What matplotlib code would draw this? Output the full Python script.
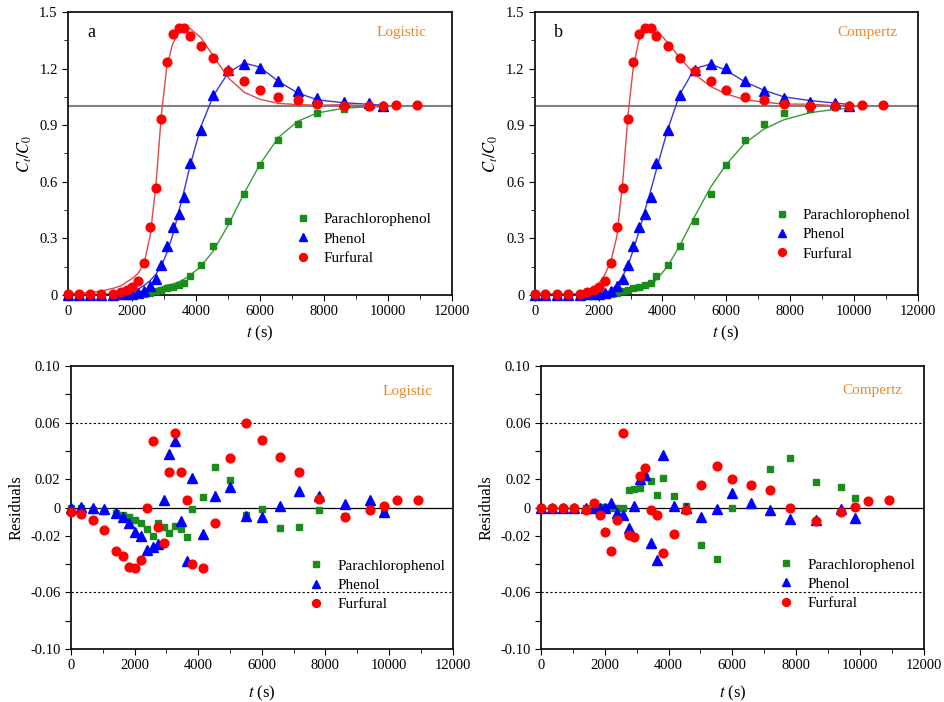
import numpy as np
import matplotlib
matplotlib.use('Agg')
import matplotlib.pyplot as plt
from matplotlib.ticker import FixedLocator, FixedFormatter, MultipleLocator

plt.rcParams['font.family'] = ['Liberation Serif', 'DejaVu Serif']
plt.rcParams['mathtext.fontset'] = 'stix'

# sampling times (s); furfural has two extra points at the end
t = np.array([0, 330, 690, 1040, 1420, 1650, 1840, 2010, 2190, 2380, 2570, 2750,
              2920, 3090, 3270, 3460, 3640, 3810, 4160, 4540, 5010, 5510, 6000,
              6580, 7180, 7800, 8630, 9400, 9850])
t_fur = np.append(t, [10250, 10900])

# measured Ct/C0
obs_pcp = np.array([0, 0, 0, 0, 0, 0.002, 0.003, 0.004, 0.005, 0.007, 0.009, 0.021,
                    0.027, 0.034, 0.044, 0.053, 0.064, 0.101, 0.159, 0.261, 0.389,
                    0.534, 0.691, 0.820, 0.906, 0.963, 0.984, 0.998, 0.995])
obs_phe = np.array([0, 0, 0, 0, 0, 0.002, 0.004, 0.006, 0.010, 0.020, 0.048, 0.083,
                    0.159, 0.260, 0.362, 0.428, 0.521, 0.701, 0.875, 1.062, 1.193,
                    1.223, 1.201, 1.133, 1.083, 1.042, 1.021, 1.016, 1.002])
obs_fur = np.array([0.003, 0.004, 0.004, 0.004, 0.004, 0.014, 0.027, 0.044, 0.076,
                    0.168, 0.362, 0.569, 0.933, 1.235, 1.383, 1.413, 1.417, 1.373,
                    1.320, 1.256, 1.186, 1.134, 1.085, 1.051, 1.034, 1.011, 1.002,
                    1.000, 1.003, 1.009, 1.009])

# residuals, Logistic model
res_log_pcp = np.array([-0.0005, -0.0005, -0.0016, -0.0024, -0.004, -0.0056, -0.007,
                        -0.009, -0.011, -0.015, -0.020, -0.011, -0.014, -0.018, -0.0127,
                        -0.0153, -0.0205, -0.0012, 0.0075, 0.0287, 0.0193, -0.0052,
                        -0.0007, -0.0148, -0.0141, -0.0016, -0.0059, 0.0014, -0.0038])
res_log_phe = np.array([0, 0.0005, 0, -0.001, -0.004, -0.007, -0.011, -0.017, -0.020,
                        -0.030, -0.028, -0.026, 0.005, 0.038, 0.047, -0.0097, -0.038,
                        0.021, -0.019, 0.008, 0.0146, -0.006, -0.0066, 0.0014, 0.012,
                        0.008, 0.0026, 0.0054, -0.0035])
res_log_fur = np.array([-0.003, -0.0045, -0.009, -0.016, -0.031, -0.034, -0.042, -0.043,
                        -0.037, 0.000, 0.047, -0.014, -0.025, 0.025, 0.053, 0.025, 0.005,
                        -0.040, -0.043, -0.011, 0.035, 0.060, 0.048, 0.036, 0.025, 0.006,
                        -0.0066, -0.0016, 0.0012, 0.0056, 0.0056])

# residuals, Compertz model
res_com_pcp = np.array([0, 0, 0, 0, 0, 0.0005, 0.0003, 0.0003, 0, 0, 0, 0.0127, 0.0132,
                        0.0136, 0.0214, 0.0186, 0.0092, 0.0212, 0.0082, 0.0012, -0.0264,
                        -0.0365, -0.0002, 0.0162, 0.0273, 0.0353, 0.0179, 0.0148, 0.0064])
res_com_phe = np.array([0, 0, 0, 0, 0, 0, 0, 0, 0.003, -0.0038, -0.0052, -0.0148, 0.0014,
                        0.020, 0.0233, -0.025, -0.0372, 0.0372, 0.0014, -0.0005, -0.0066,
                        -0.0009, 0.0104, 0.0033, -0.0019, -0.0082, -0.0089, -0.0012,
                        -0.0073])
res_com_fur = np.array([0, 0, 0, 0, -0.0014, 0.0033, -0.0056, -0.0172, -0.0306, -0.0085,
                        0.0527, -0.0195, -0.0207, 0.0221, 0.0282, -0.0014, -0.0052,
                        -0.0322, -0.0184, -0.0014, 0.0162, 0.0292, 0.020, 0.016, 0.0125,
                        -0.0002, -0.0092, -0.0028, 0.0002, 0.0049, 0.0054])

names = ['Parachlorophenol', 'Phenol', 'Furfural']
colors = ['#1a8c1a', '#0000ff', '#ff0000']
line_colors = ['#3a9a3a', '#3a3ad0', '#e04848']
markers = ['s', '^', 'o']
msizes = [4.8, 6.5, 6.3]

top_yticks = [0, 0.3, 0.6, 0.9, 1.2, 1.5]
top_ylabels = ['0', '0.3', '0.6', '0.9', '1.2', '1.5']
res_yticks = [-0.10, -0.08, -0.06, -0.04, -0.02, 0, 0.02, 0.04, 0.06, 0.08, 0.10]
res_ylabels = ['-0.10', '', '-0.06', '', '-0.02', '0', '0.02', '', '0.06', '', '0.10']

fig = plt.figure(figsize=(9.45, 7.02), dpi=100)
axes = {
    'a': fig.add_axes([0.072, 0.580, 0.406, 0.403]),
    'b': fig.add_axes([0.566, 0.580, 0.405, 0.403]),
    'ra': fig.add_axes([0.075, 0.0755, 0.404, 0.403]),
    'rb': fig.add_axes([0.5725, 0.0755, 0.405, 0.403]),
}


def style(ax, pad):
    for s in ax.spines.values():
        s.set_linewidth(1.2)
    ax.tick_params(which='both', direction='out', labelsize=10.5, top=False, right=False)
    ax.tick_params(which='major', length=4)
    ax.tick_params(which='minor', length=3)
    ax.set_xlim(0, 12000)
    ax.xaxis.set_major_locator(MultipleLocator(2000))
    ax.xaxis.set_minor_locator(MultipleLocator(1000))
    ax.set_xlabel(r'$t$ (s)', fontsize=12, labelpad=pad)


obs_all = [obs_pcp, obs_phe, obs_fur]
tt = [t, t, t_fur]
res_sets = {'a': [res_log_pcp, res_log_phe, res_log_fur],
            'b': [res_com_pcp, res_com_phe, res_com_fur]}
model_names = {'a': 'Logistic', 'b': 'Compertz'}
leg_pos = {'a': (0.593, 0.29), 'b': (0.626, 0.305), 'ra': (0.623, 0.318), 'rb': (0.621, 0.322)}
leg_kw = dict(loc='upper left', frameon=False, fontsize=11, handlelength=1.0,
              handletextpad=0.86, labelspacing=0.36, borderpad=0, borderaxespad=0,
              markerscale=0.9)

for key in ['a', 'b']:
    ax = axes[key]
    style(ax, 4)
    ax.axhline(1.0, color='#808080', lw=1.5, zorder=1)
    for i in range(3):
        n = len(t)
        fit = obs_all[i][:n] - res_sets[key][i][:n]
        ax.plot(t, fit, color=line_colors[i], lw=1.0, zorder=2)
        ax.plot(tt[i], obs_all[i], linestyle='none', marker=markers[i], ms=msizes[i],
                color=colors[i], label=names[i], clip_on=False, zorder=3)
    ax.set_ylim(0, 1.5)
    ax.yaxis.set_major_locator(FixedLocator(top_yticks))
    ax.yaxis.set_major_formatter(FixedFormatter(top_ylabels))
    ax.yaxis.set_minor_locator(MultipleLocator(0.15))
    ax.set_ylabel(r'$C_t/C_0$', fontsize=12)
    ax.text(0.05, 0.926, key, transform=ax.transAxes, fontsize=13, va='center')
    ax.text(0.87, 0.927, model_names[key], transform=ax.transAxes, fontsize=11,
            color='#e8892b', ha='center', va='center')
    ax.legend(bbox_to_anchor=leg_pos[key], **leg_kw)

for key, src in [('ra', 'a'), ('rb', 'b')]:
    ax = axes[key]
    style(ax, 8)
    ax.axhline(0, color='black', lw=0.9, zorder=1)
    ax.axhline(0.06, color='black', lw=0.8, ls=(0, (2, 2)), zorder=1)
    ax.axhline(-0.06, color='black', lw=0.8, ls=(0, (2, 2)), zorder=1)
    for i in range(3):
        ax.plot(tt[i], res_sets[src][i], linestyle='none', marker=markers[i], ms=msizes[i],
                color=colors[i], label=names[i], clip_on=False, zorder=3)
    ax.set_ylim(-0.1, 0.1)
    ax.yaxis.set_major_locator(FixedLocator(res_yticks))
    ax.yaxis.set_major_formatter(FixedFormatter(res_ylabels))
    ax.set_ylabel('Residuals', fontsize=12)
    pos = (0.883, 0.909) if key == 'ra' else (0.865, 0.913)
    ax.text(pos[0], pos[1], model_names[src], transform=ax.transAxes, fontsize=11,
            color='#e8892b', ha='center', va='center')
    ax.legend(bbox_to_anchor=leg_pos[key], **leg_kw)

fig.savefig('out.png', dpi=100)
